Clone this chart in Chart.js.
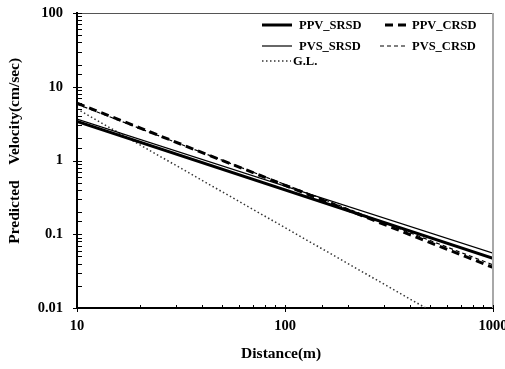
<!DOCTYPE html>
<html><head><meta charset="utf-8">
<script src="https://cdn.jsdelivr.net/npm/chart.js@4.4.0/dist/chart.umd.min.js"></script>
<style>html,body{margin:0;padding:0;background:#fff}#wrap{width:505px;height:369px}</style>
</head><body><div id="wrap"><canvas id="c" width="505" height="369"></canvas></div>
<script>
// ---- data (log-log straight lines, endpoints) ----
const distances   = [10, 1000];
const glDistances = [10, 475];
const ppvSrsd  = [3.4, 0.047];
const ppvCrsd  = [6.0, 0.0355];
const pvsSrsd  = [3.65, 0.0555];
const pvsCrsd  = [5.8, 0.0385];
const guideLine = [5.0, 0.01];
const seriesNames = ['PPV_SRSD', 'PPV_CRSD', 'PVS_SRSD', 'PVS_CRSD', 'G.L.'];
const yTickLabels = [0.01, 0.1, 1, 10, 100];
const xTickLabels = [10, 100, 1000];

const FONT = '"Liberation Serif", "Times New Roman", serif';
const pts = (xs, ys) => xs.map((x, i) => ({x: x, y: ys[i]}));
const matchLabel = (list, v) => {
  const m = list.find(t => Math.abs(t - v) / t < 1e-6);
  return m === undefined ? '' : String(m);
};

const datasets = [
  {label: seriesNames[0], data: pts(distances, ppvSrsd), borderColor: '#000', borderWidth: 3, borderDash: []},
  {label: seriesNames[1], data: pts(distances, ppvCrsd), borderColor: '#000', borderWidth: 3, borderDash: [8, 5]},
  {label: seriesNames[2], data: pts(distances, pvsSrsd), borderColor: '#000', borderWidth: 1.2, borderDash: []},
  {label: seriesNames[3], data: pts(distances, pvsCrsd), borderColor: '#000', borderWidth: 1.2, borderDash: [4, 3]},
  {label: seriesNames[4], data: pts(glDistances, guideLine), borderColor: '#333', borderWidth: 1.5, borderDash: [1.5, 2.5]}
].map(d => Object.assign(d, {pointRadius: 0, fill: false, tension: 0, backgroundColor: d.borderColor}));

// tick marks + frame + legend
const decor = {
  id: 'decor',
  afterDraw(chart) {
    const ctx = chart.ctx, a = chart.chartArea;
    const xs = chart.scales.x, ys = chart.scales.y;
    ctx.save();
    // frame top / right
    ctx.strokeStyle = '#555'; ctx.lineWidth = 1;
    ctx.beginPath(); ctx.moveTo(a.left, a.top + 0.5); ctx.lineTo(a.right, a.top + 0.5); ctx.stroke();
    ctx.strokeStyle = '#a8a8a8'; ctx.lineWidth = 2;
    ctx.beginPath(); ctx.moveTo(a.right, a.top); ctx.lineTo(a.right, a.bottom); ctx.stroke();
    // y ticks
    ctx.strokeStyle = '#000'; ctx.lineWidth = 1;
    ys.ticks.forEach(t => {
      const p = Math.round(ys.getPixelForValue(t.value)) + 0.5;
      const major = matchLabel(yTickLabels, t.value) !== '';
      ctx.beginPath();
      ctx.moveTo(major ? a.left - 4 : a.left, p);
      ctx.lineTo(a.left + 5, p);
      ctx.stroke();
    });
    xs.ticks.forEach(t => {
      const p = Math.round(xs.getPixelForValue(t.value)) + 0.5;
      const major = matchLabel(xTickLabels, t.value) !== '';
      ctx.beginPath();
      ctx.moveTo(p, major ? a.bottom + 4 : a.bottom);
      ctx.lineTo(p, a.bottom - 3);
      ctx.stroke();
    });
    // legend
    const slots = [
      {lx: 262, rx: 292, tx: 299, y: 25},
      {lx: 385, rx: 407, tx: 412, y: 25},
      {lx: 262, rx: 292, tx: 299, y: 46},
      {lx: 380, rx: 407, tx: 412, y: 46},
      {lx: 262, rx: 291, tx: 293, y: 61}
    ];
    ctx.font = 'bold 12.5px ' + FONT;
    ctx.textBaseline = 'middle'; ctx.textAlign = 'left'; ctx.fillStyle = '#000';
    chart.data.datasets.forEach((d, i) => {
      const s = slots[i];
      ctx.strokeStyle = d.borderColor; ctx.lineWidth = d.borderWidth;
      ctx.setLineDash(d.borderDash);
      ctx.beginPath(); ctx.moveTo(s.lx, s.y); ctx.lineTo(s.rx, s.y); ctx.stroke();
      ctx.setLineDash([]);
      ctx.fillText(d.label, s.tx, s.y + 0.5);
    });
    ctx.restore();
  }
};

new Chart(document.getElementById('c'), {
  type: 'line',
  data: {datasets: datasets},
  plugins: [decor],
  options: {
    responsive: false,
    animation: false,
    devicePixelRatio: 1,
    layout: {padding: {left: 0, right: 12, top: 13, bottom: 0}},
    plugins: {legend: {display: false}, tooltip: {enabled: false}},
    scales: {
      x: {
        type: 'logarithmic', min: 10, max: 1000, position: 'bottom',
        grid: {display: false, drawTicks: false},
        border: {display: true, color: '#000', width: 2},
        ticks: {autoSkip: false, maxRotation: 0, padding: 10, color: '#000',
                font: {family: FONT, size: 14.5, weight: 'bold'},
                callback: v => matchLabel(xTickLabels, v)},
        title: {display: true, text: 'Distance(m)  ', color: '#000', padding: {top: 6, bottom: 6},
                font: {family: FONT, size: 15.5, weight: 'bold'}},
        afterFit(s) { s.height = 61; s.paddingLeft = 0; s.paddingRight = 0; }
      },
      y: {
        type: 'logarithmic', min: 0.01, max: 100, position: 'left',
        grid: {display: false, drawTicks: false},
        border: {display: true, color: '#000', width: 2},
        ticks: {autoSkip: false, padding: 14, color: '#000',
                font: {family: FONT, size: 14.5, weight: 'bold'},
                callback: v => matchLabel(yTickLabels, v)},
        title: {display: true, text: '     Predicted    Velocity(cm/sec)', color: '#000', padding: {top: 6, bottom: 6},
                font: {family: FONT, size: 15.5, weight: 'bold'}},
        afterFit(s) { s.width = 77; s.paddingTop = 0; s.paddingBottom = 0; }
      }
    }
  }
});
</script></body></html>
